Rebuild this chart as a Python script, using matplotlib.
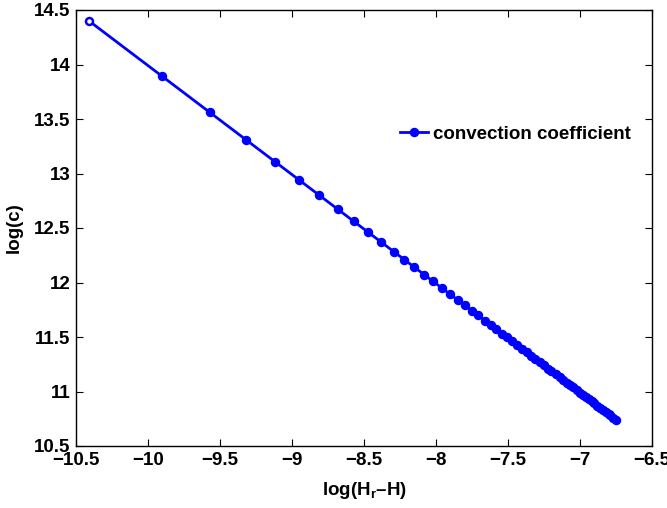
import matplotlib
matplotlib.use('Agg')
import matplotlib.pyplot as plt

# MATLAB-like look
plt.rcParams['font.family'] = ['Liberation Sans', 'DejaVu Sans']
plt.rcParams['font.weight'] = 'bold'
plt.rcParams['mathtext.fontset'] = 'custom'
plt.rcParams['mathtext.rm'] = 'Liberation Sans:bold'
plt.rcParams['mathtext.bf'] = 'Liberation Sans:bold'

# data
log_dH = [-10.41, -9.90, -9.57, -9.32, -9.12, -8.95, -8.81, -8.68, -8.57, -8.47,
          -8.38, -8.29, -8.22, -8.15, -8.08, -8.02, -7.96, -7.90, -7.85, -7.80,
          -7.75, -7.71, -7.66, -7.62, -7.58, -7.54, -7.51, -7.47, -7.44, -7.40,
          -7.37, -7.34, -7.31, -7.28, -7.25, -7.22, -7.20, -7.17, -7.14, -7.12,
          -7.09, -7.07, -7.05, -7.02, -7.00, -6.98, -6.96, -6.94, -6.92, -6.90,
          -6.88, -6.86, -6.84, -6.82, -6.80, -6.79, -6.77, -6.75]
log_c = [14.40, 13.89, 13.56, 13.31, 13.11, 12.94, 12.80, 12.67, 12.56, 12.46,
         12.37, 12.28, 12.21, 12.14, 12.07, 12.01, 11.95, 11.89, 11.84, 11.79,
         11.74, 11.70, 11.65, 11.61, 11.57, 11.53, 11.50, 11.46, 11.43, 11.39,
         11.36, 11.33, 11.30, 11.27, 11.24, 11.21, 11.19, 11.16, 11.13, 11.11,
         11.08, 11.06, 11.04, 11.01, 10.99, 10.97, 10.95, 10.93, 10.91, 10.89,
         10.87, 10.85, 10.83, 10.81, 10.79, 10.78, 10.76, 10.74]

xticks = [-10.5, -10, -9.5, -9, -8.5, -8, -7.5, -7, -6.5]
yticks = [10.5, 11, 11.5, 12, 12.5, 13, 13.5, 14, 14.5]

fig = plt.figure(figsize=(6.67, 5.08), dpi=100)
ax = fig.add_axes([76 / 667, 62 / 508, 576 / 667, 436 / 508])

ax.plot(log_dH, log_c, '-o', color='#0000ff', lw=2, ms=5.8,
        label='convection coefficient')
# first marker looks hollow in the original
ax.plot(log_dH[0], log_c[0], 'o', color='white', ms=2.2)

ax.set_xlim(-10.5, -6.5)
ax.set_ylim(10.5, 14.5)
ax.set_xticks(xticks)
ax.set_yticks(yticks)
ax.set_xticklabels([('%g' % t).replace('-', '\u2212') for t in xticks])
ax.set_yticklabels(['%g' % t for t in yticks])
ax.tick_params(direction='in', top=True, right=True, length=5, width=0.8,
               labelsize=13.5, pad=4)
for s in ax.spines.values():
    s.set_linewidth(1)

ax.set_xlabel(r'log(H$_\mathbf{r}$' + '\u2013H)', fontsize=13.5, fontweight='bold', labelpad=8)
ax.set_ylabel('log(c)', fontsize=13.5, fontweight='bold', labelpad=8)

ax.legend(loc='center left', bbox_to_anchor=(0.5625, 0.7156), frameon=False,
          borderpad=0, borderaxespad=0, handlelength=1.5, handletextpad=0.25,
          prop={'size': 13.5, 'weight': 'bold'})

fig.savefig('out.png', dpi=100)
